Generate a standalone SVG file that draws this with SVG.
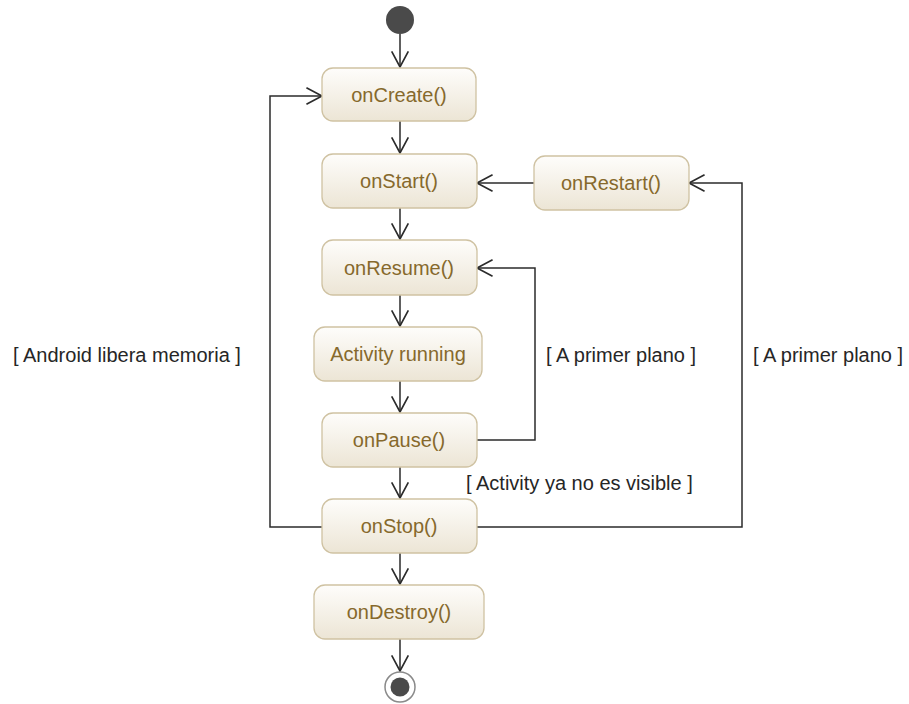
<svg xmlns="http://www.w3.org/2000/svg" width="909" height="704" viewBox="0 0 909 704">
  <defs>
    <linearGradient id="nodeFill" x1="0" y1="0" x2="0" y2="1">
      <stop offset="0" stop-color="#fefdfb"/>
      <stop offset="1" stop-color="#ece5d5"/>
    </linearGradient>
    <marker id="open" markerUnits="userSpaceOnUse" markerWidth="20" markerHeight="20" viewBox="-16 -9 18 18" refX="0" refY="0" orient="auto">
      <path d="M-14,-7.5 L0,0 L-14,7.5" fill="none" stroke="#2b2b2b" stroke-width="1.5"/>
    </marker>
  </defs>
  <style>
    .node rect { fill: url(#nodeFill); stroke: #cfc2a2; stroke-width: 1.3; }
    .node text { font-family: "Liberation Sans", Arial, sans-serif; font-size: 20px; fill: #86692c; text-anchor: middle; }
    .edge { fill: none; stroke: #2b2b2b; stroke-width: 1.5; marker-end: url(#open); }
    .guard { font-family: "Liberation Sans", Arial, sans-serif; font-size: 20px; fill: #262626; }
  </style>
  <rect width="909" height="704" fill="#ffffff"/>

  <g id="connectors">
    <path class="edge" d="M400,34 V67"/>
    <path class="edge" d="M400,121 V153"/>
    <path class="edge" d="M400,208 V239"/>
    <path class="edge" d="M400,295 V326"/>
    <path class="edge" d="M400,381 V412"/>
    <path class="edge" d="M400,467 V498"/>
    <path class="edge" d="M400,553 V584"/>
    <path class="edge" d="M400,639 V671"/>
    <path class="edge" d="M534,183 H477"/>
    <path class="edge" d="M477,440 H535 V268 H477"/>
    <path class="edge" d="M322,527 H270 V96 H322"/>
    <path class="edge" d="M477,527 H742 V183 H689"/>
  </g>

  <g id="start">
    <circle cx="400" cy="20" r="14" fill="#4a4a4a"/>
  </g>
  <g id="onCreate" class="node">
    <rect x="322" y="68" width="154" height="53" rx="11"/>
    <text x="399" y="102">onCreate()</text>
  </g>
  <g id="onStart" class="node">
    <rect x="322" y="154" width="155" height="54" rx="11"/>
    <text x="399" y="188">onStart()</text>
  </g>
  <g id="onRestart" class="node">
    <rect x="534" y="156" width="155" height="54" rx="11"/>
    <text x="611" y="190">onRestart()</text>
  </g>
  <g id="onResume" class="node">
    <rect x="322" y="240" width="155" height="55" rx="11"/>
    <text x="399" y="275">onResume()</text>
  </g>
  <g id="running" class="node">
    <rect x="314" y="327" width="168" height="54" rx="11"/>
    <text x="398" y="361">Activity running</text>
  </g>
  <g id="onPause" class="node">
    <rect x="322" y="413" width="155" height="54" rx="11"/>
    <text x="399" y="447">onPause()</text>
  </g>
  <g id="onStop" class="node">
    <rect x="322" y="499" width="155" height="54" rx="11"/>
    <text x="399" y="533">onStop()</text>
  </g>
  <g id="onDestroy" class="node">
    <rect x="314" y="585" width="170" height="54" rx="11"/>
    <text x="399" y="619">onDestroy()</text>
  </g>
  <g id="end">
    <circle cx="400" cy="687" r="15" fill="#ffffff" stroke="#8a8a8a" stroke-width="1.5"/>
    <circle cx="400" cy="687" r="9.5" fill="#4a4a4a"/>
  </g>

  <g id="guards">
    <text class="guard" x="13" y="362">[ Android libera memoria ]</text>
    <text class="guard" x="546" y="362">[ A primer plano ]</text>
    <text class="guard" x="753" y="362">[ A primer plano ]</text>
    <text class="guard" x="466" y="490">[ Activity ya no es visible ]</text>
  </g>
</svg>
